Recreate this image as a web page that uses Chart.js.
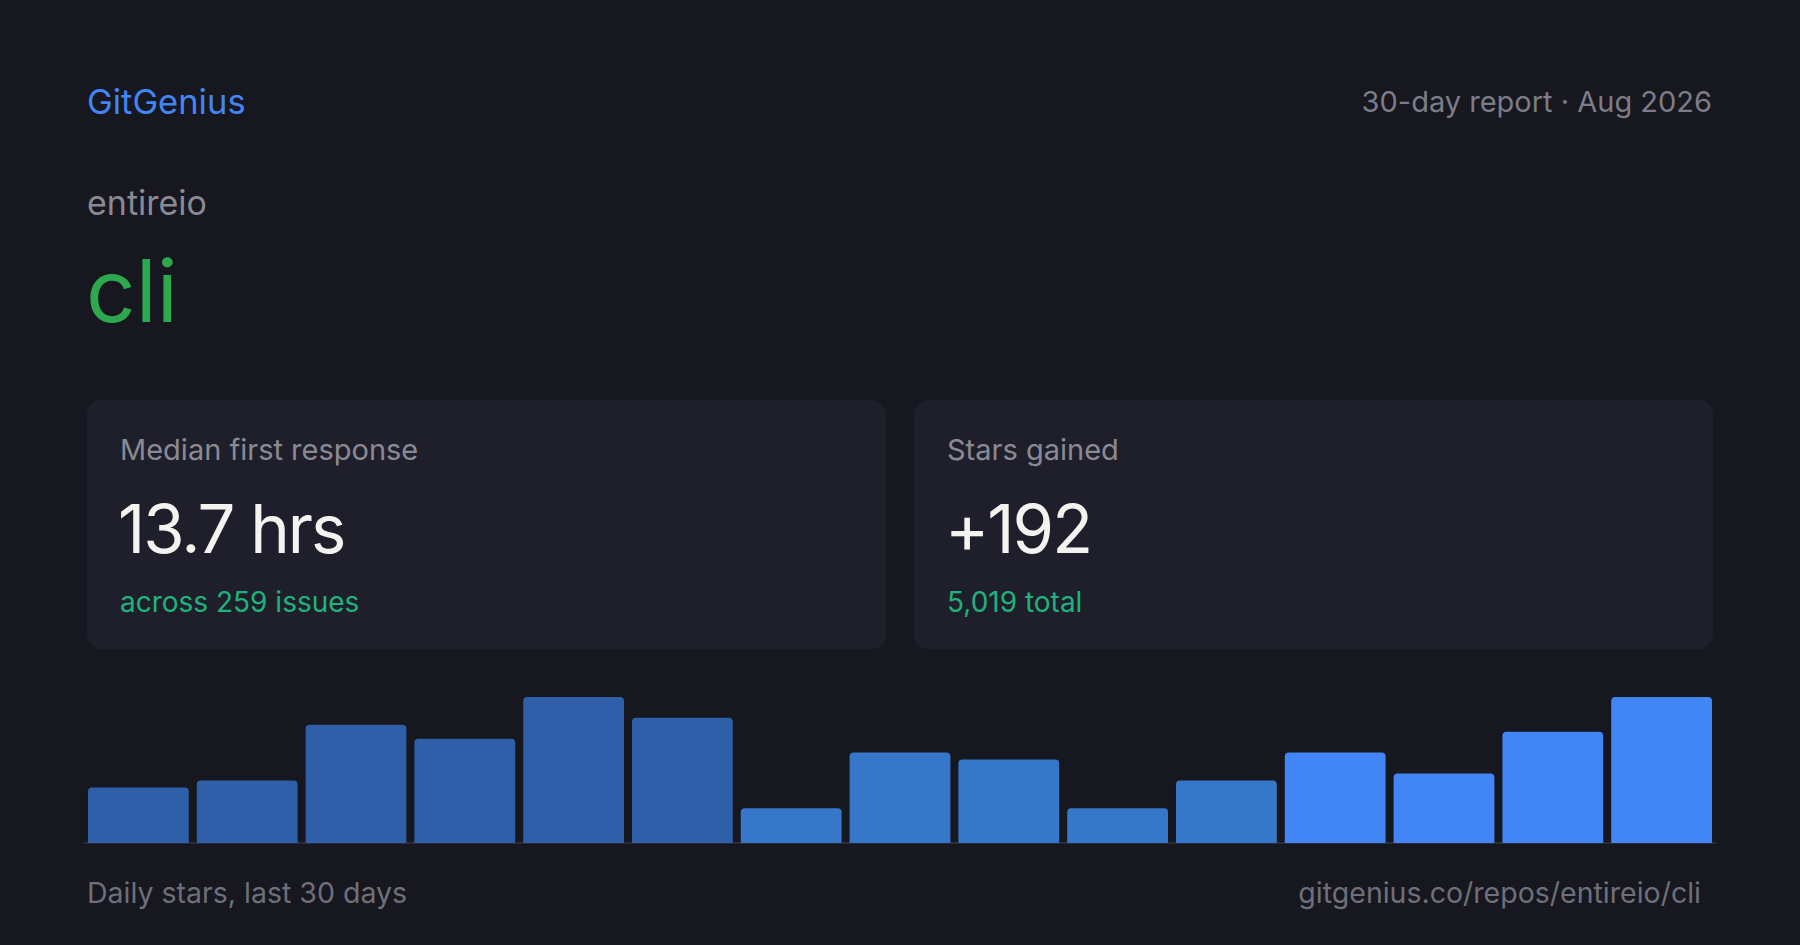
<!DOCTYPE html>
<html>
<head>
<meta charset="utf-8">
<script src="https://cdn.jsdelivr.net/npm/chart.js@4.4.1/dist/chart.umd.min.js"></script>
<style>
  html, body { margin: 0; padding: 0; }
  body {
    width: 1800px; height: 945px; position: relative; overflow: hidden;
    background: #16171f; font-family: Inter, "Noto Sans", sans-serif;
  }
  .t { position: absolute; line-height: 1; white-space: nowrap; }
  .card {
    position: absolute; top: 400px; width: 799px; height: 249px;
    background: #1f1f2b; border-radius: 14px;
  }
  .card .label { left: 33px; top: 35px; font-size: 29px; color: #8a8a94; }
  .card .value { left: 31px; top: 95px; font-size: 67px; letter-spacing: -2px; color: #f3f3f0; }
  .card .sub { left: 33px; top: 188px; font-size: 28px; color: #20b27c; }
  #chartBox { position: absolute; left: 84px; top: 697px; width: 1632px; height: 156px; }
</style>
</head>
<body>
  <div class="t" style="left:87px; top:85px; font-size:34.5px; color:#4285f4;">GitGenius</div>
  <div class="t" style="right:88px; top:87px; font-size:29px; color:#7d7d87;">30-day report · Aug 2026</div>
  <div class="t" style="left:87px; top:186px; font-size:34px; color:#8a8a94;">entireio</div>
  <div class="t" style="left:86px; top:247px; font-size:87px; color:#2ea84f;">cli</div>

  <div class="card" style="left:87px;">
    <div class="t label">Median first response</div>
    <div class="t value">13.7 hrs</div>
    <div class="t sub">across 259 issues</div>
  </div>
  <div class="card" style="left:914px;">
    <div class="t label">Stars gained</div>
    <div class="t value">+192</div>
    <div class="t sub">5,019 total</div>
  </div>

  <div id="chartBox"><canvas id="starsChart"></canvas></div>

  <div class="t" style="left:87px; top:879px; font-size:28.5px; color:#6f6f7a;">Daily stars, last 30 days</div>
  <div class="t" style="right:99px; top:879px; font-size:28.5px; color:#6f6f7a;">gitgenius.co/repos/entireio/cli</div>

<script>
// Stars per bar (each bar = 2 days, 30 days total, sums to +192)
const periods = ['1-2', '3-4', '5-6', '7-8', '9-10', '11-12', '13-14', '15-16',
                 '17-18', '19-20', '21-22', '23-24', '25-26', '27-28', '29-30'];
const starsGained = [8, 9, 17, 15, 21, 18, 5, 13, 12, 5, 9, 13, 10, 16, 21];
const barColors = [
    '#2e5fa8', '#2e5fa8', '#2e5fa8', '#2e5fa8', '#2e5fa8', '#2e5fa8',
    '#3677c9', '#3677c9', '#3677c9', '#3677c9', '#3677c9',
    '#4285f4', '#4285f4', '#4285f4', '#4285f4'
];

const ctx = document.getElementById('starsChart').getContext('2d');

new Chart(ctx, {
    type: 'bar',
    data: {
        labels: periods,
        datasets: [{
            label: 'Stars',
            data: starsGained,
            backgroundColor: barColors,
            borderRadius: 4,
            borderSkipped: 'start',
            barPercentage: 0.9265,
            categoryPercentage: 1
        }]
    },
    options: {
        responsive: true,
        maintainAspectRatio: false,
        animation: false,
        layout: { padding: { top: 0, bottom: 2, left: 0, right: 0 } },
        scales: {
            x: {
                display: true,
                grid: { display: false },
                ticks: { display: false },
                border: { display: true, color: '#2a2b38', width: 2 }
            },
            y: {
                display: false,
                min: 0,
                max: 21
            }
        },
        plugins: {
            legend: { display: false },
            tooltip: { enabled: false }
        }
    }
});
</script>
</body>
</html>
